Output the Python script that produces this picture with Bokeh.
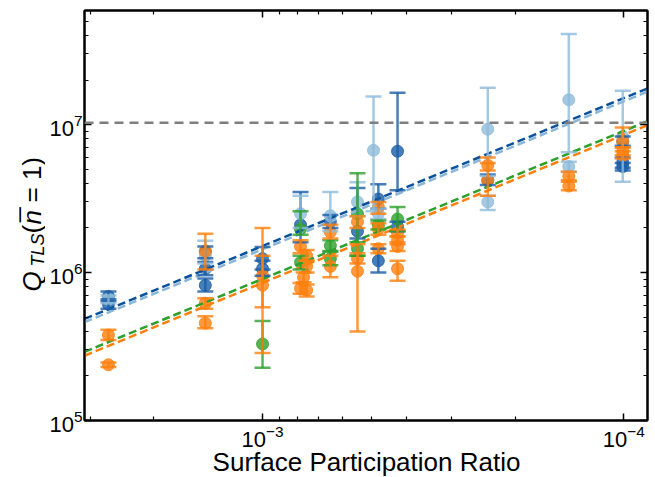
import numpy as np
from bokeh.plotting import figure
from bokeh.layouts import row, column
from bokeh.models import (Range1d, LogAxis, FixedTicker, LogTickFormatter, Whisker, TeeHead,
                          ColumnDataSource, Span, Label, CustomJSTickFormatter)
from bokeh.embed import file_html
from bokeh.resources import INLINE

# ---------------- data ----------------
# dark blue series
db_spr = [2.67e-3, 2.67e-3, 1.44e-3, 1.44e-3, 1.44e-3, 1.0e-3, 1.0e-3, 7.85e-4, 6.49e-4,
          5.46e-4, 4.78e-4, 4.78e-4, 4.23e-4, 4.23e-4, 2.38e-4, 1.007e-4, 1.007e-4, 1.007e-4]
db_q = [6.9e5, 6.1e5, 1.38e6, 1.06e6, 8.2e5, 1.24e6, 1.06e6, 2.1e6, 2.2e6,
        1.9e6, 3.14e6, 1.2e6, 6.6e6, 2.04e6, 4.2e6, 7.7e6, 5.55e6, 5.2e6]
db_lo = [6.4e5, 5.7e5, 1.25e6, 9.6e5, 7.45e5, 1.05e6, 9.5e5, 1.6e6, 2.0e6,
         1.7e6, 2.7e6, 1.0e6, 3.6e6, 1.9e6, 3.9e6, 7.2e6, 5.1e6, 4.9e6]
db_hi = [7.45e5, 6.6e5, 1.5e6, 1.18e6, 9.1e5, 1.49e6, 1.2e6, 3.5e6, 2.45e6,
         3.72e6, 3.95e6, 1.45e6, 1.64e7, 2.2e6, 4.6e6, 8.3e6, 6.0e6, 5.5e6]

# light blue series
lb_spr = [2.67e-3, 1.44e-3, 7.85e-4, 6.49e-4, 5.46e-4, 4.93e-4, 4.78e-4, 2.38e-4,
          2.38e-4, 1.42e-4, 1.42e-4, 1.007e-4]
lb_q = [6.6e5, 1.3e6, 2.5e6, 2.42e6, 3.0e6, 6.7e6, 2.5e6, 9.3e6, 3.0e6, 1.47e7, 5.2e6, 8.3e6]
lb_lo = [6.2e5, 1.15e6, 2.0e6, 1.9e6, 2.4e6, 2.6e6, 2.3e6, 4.5e6, 2.65e6, 6.5e6, 4.8e6, 4.1e6]
lb_hi = [7.0e5, 1.64e6, 3.3e6, 3.5e6, 4.08e6, 1.55e7, 2.7e6, 1.77e7, 3.3e6, 4.1e7, 5.6e6, 1.69e7]

# green series
g_spr = [1.0e-3, 7.85e-4, 7.85e-4, 6.49e-4, 6.49e-4, 5.46e-4, 5.46e-4, 4.78e-4, 4.23e-4]
g_q = [3.29e5, 1.97e6, 1.17e6, 1.52e6, 1.24e6, 2.49e6, 1.45e6, 2.1e6, 2.3e6]
g_lo = [2.27e5, 1.8e6, 1.05e6, 1.4e6, 1.12e6, 1.3e6, 1.3e6, 1.95e6, 1.9e6]
g_hi = [4.7e5, 2.6e6, 1.3e6, 1.65e6, 1.38e6, 4.69e6, 1.6e6, 2.25e6, 2.77e6]

# orange series
o_spr = [2.67e-3, 2.67e-3, 1.44e-3, 1.44e-3, 1.44e-3, 1.0e-3, 1.0e-3, 7.85e-4, 7.55e-4,
         7.55e-4, 7.7e-4, 7.85e-4, 7.55e-4, 6.49e-4, 6.49e-4, 5.46e-4, 5.46e-4, 5.46e-4,
         4.78e-4, 4.78e-4, 4.78e-4, 4.23e-4, 4.23e-4, 4.23e-4, 4.23e-4, 2.38e-4, 2.38e-4,
         1.42e-4, 1.42e-4, 1.007e-4, 1.007e-4, 1.007e-4]
o_q = [3.78e5, 2.38e5, 1.4e6, 6.2e5, 4.55e5, 9.55e5, 8.2e5, 1.5e6, 1.3e6,
       1.1e6, 9.3e5, 7.8e5, 7.6e5, 1.88e6, 1.1e6, 2.2e6, 1.24e6, 1.02e6,
       2.77e6, 1.97e6, 1.45e6, 1.85e6, 1.65e6, 1.5e6, 1.06e6, 5.3e6, 4.2e6,
       4.48e6, 3.84e6, 7.7e6, 6.6e6, 6.2e6]
o_lo = [3.5e5, 2.3e5, 1.05e6, 5.7e5, 4.2e5, 5.82e5, 2.86e5, 1.35e6, 1.2e6,
        1.0e6, 8.6e5, 7.2e5, 6.9e5, 1.7e6, 9.3e5, 2.0e6, 1.15e6, 4.0e5,
        2.5e6, 1.8e6, 1.35e6, 1.75e6, 1.55e6, 1.4e6, 8.8e5, 4.9e6, 3.3e6,
        4.2e6, 3.6e6, 7.0e6, 6.2e6, 5.9e6]
o_hi = [4.1e5, 2.47e5, 1.83e6, 6.7e5, 5.07e5, 2.0e6, 1.3e6, 1.65e6, 1.42e6,
        1.2e6, 1.0e6, 8.5e5, 8.3e5, 2.1e6, 1.3e6, 2.4e6, 1.35e6, 1.55e6,
        3.0e6, 2.15e6, 1.55e6, 1.95e6, 1.75e6, 1.6e6, 1.2e6, 6.0e6, 5.5e6,
        4.8e6, 4.1e6, 9.55e6, 7.0e6, 6.6e6]

# fitted Q*p constants (Q = C / p) for each series
fit_c = {"db": 1510.0, "lb": 1436.0, "g": 905.0, "o": 852.0}
q_limit = 1.03e7

# tick values
x_major = [1e-4, 1e-3]
x_minor = [2e-4, 3e-4, 4e-4, 5e-4, 6e-4, 7e-4, 8e-4, 9e-4, 2e-3, 3e-3]
y_major = [1e5, 1e6, 1e7]
y_minor = [2e5, 3e5, 4e5, 5e5, 6e5, 7e5, 8e5, 9e5, 2e6, 3e6, 4e6, 5e6, 6e6, 7e6, 8e6,
           9e6, 2e7, 3e7, 4e7, 5e7]

x_title = "Surface Participation Ratio"

X_RANGE = (3.11e-3, 8.6e-5)
Y_RANGE = (1e5, 5.9e7)

colors = {"db": "#1a5ea6", "lb": "#8fbcd9", "g": "#2ca02c", "o": "#ff7f0e"}
line_colors = {"db": "#0a519c", "lb": "#8ab6d6", "g": "#2ca02c", "o": "#ff7f0e"}

FONT = "Liberation Sans"

LEFT_W = 45
TOP_H = 449

p = figure(width=655 - LEFT_W, height=TOP_H, x_axis_type="log", y_axis_type="log",
           x_range=Range1d(*X_RANGE), y_range=Range1d(*Y_RANGE),
           output_backend="svg", toolbar_location=None,
           min_border_left=39, min_border_right=8, min_border_top=10,
           min_border_bottom=26)
p.grid.visible = False
p.outline_line_color = "black"
p.outline_line_width = 2
p.background_fill_color = "white"
p.border_fill_color = "white"

series = [("db", db_spr, db_q, db_lo, db_hi),
          ("lb", lb_spr, lb_q, lb_lo, lb_hi),
          ("g", g_spr, g_q, g_lo, g_hi),
          ("o", o_spr, o_q, o_lo, o_hi)]

for key, xs, ys, lo, hi in series:
    src = ColumnDataSource(dict(x=xs, y=ys, lo=lo, hi=hi))
    c = colors[key]
    w = Whisker(source=src, base="x", upper="hi", lower="lo", dimension="height",
                line_color=c, line_alpha=0.8, line_width=2.5, level="glyph",
                upper_head=TeeHead(size=16, line_color=c, line_alpha=0.8, line_width=2.5),
                lower_head=TeeHead(size=16, line_color=c, line_alpha=0.8, line_width=2.5))
    p.add_layout(w)
    p.scatter("x", "y", source=src, marker="circle", size=12, fill_color=c,
              line_color=c, fill_alpha=0.8, line_alpha=0.8)

p.add_layout(Span(location=q_limit, dimension="width", line_color="#7f7f7f",
                  line_width=2.5, line_dash="9 6"))

xfit = np.logspace(np.log10(X_RANGE[0]), np.log10(X_RANGE[1]), 60)
for key in ["lb", "db", "g", "o"]:
    p.line(xfit, fit_c[key] / xfit, line_color=line_colors[key], line_width=2.5,
           line_dash="8 4")


def style_axis(ax):
    ax.axis_line_width = 2
    ax.axis_line_color = "black"
    ax.major_tick_in = 7
    ax.major_tick_out = 0
    ax.minor_tick_in = 4
    ax.minor_tick_out = 0
    ax.major_tick_line_width = 1.5
    ax.minor_tick_line_width = 1.2


xt = FixedTicker(ticks=x_major, minor_ticks=x_minor)
yt = FixedTicker(ticks=y_major, minor_ticks=y_minor)

p.xaxis[0].ticker = xt
p.yaxis[0].ticker = yt
p.xaxis[0].formatter = LogTickFormatter()
p.yaxis[0].formatter = LogTickFormatter()
for ax in [p.xaxis[0], p.yaxis[0]]:
    style_axis(ax)
    ax.major_label_text_font = FONT
    ax.major_label_text_font_size = "22px"
    ax.major_label_text_color = "black"

p.yaxis[0].major_label_standoff = 2
p.xaxis[0].major_label_standoff = 4

blank = CustomJSTickFormatter(code="return ''")
for loc, tk in [("above", xt), ("right", yt)]:
    ax = LogAxis(ticker=tk, formatter=blank)
    ax.major_label_standoff = 0
    style_axis(ax)
    p.add_layout(ax, loc)


def text_panel(w, h):
    f = figure(width=w, height=h, x_range=Range1d(0, 1), y_range=Range1d(0, 1),
               output_backend="svg", toolbar_location=None,
               x_axis_location=None, y_axis_location=None,
               min_border=0, outline_line_color=None)
    f.grid.visible = False
    f.background_fill_color = "white"
    f.border_fill_color = "white"
    return f


# y-axis title: Q_TLS(n̄ = 1)
ytitle = text_panel(LEFT_W, TOP_H)
ang = np.pi / 2
pieces = [
    ("Q", 31, 291, "26px", "italic"),
    ("TLS", 37, 266, "18px", "italic"),
    ("(", 31, 233, "26px", "normal"),
    ("n\u0305", 31, 224, "26px", "italic"),
    ("= 1)", 31, 202, "26px", "normal"),
]
for txt, cx, cy, fs, st in pieces:
    ytitle.add_layout(Label(x=cx, y=cy, x_units="canvas", y_units="canvas", text=txt,
                            angle=ang, text_font=FONT, text_font_size=fs,
                            text_font_style=st, text_color="black",
                            text_baseline="alphabetic", text_align="left"))

# x-axis title
xtitle = text_panel(655, 477 - TOP_H)
xtitle.add_layout(Label(x=366, y=12, x_units="canvas", y_units="canvas", text=x_title,
                        text_font=FONT, text_font_size="26px", text_color="black",
                        text_align="center", text_baseline="alphabetic"))

layout = column(row(ytitle, p, spacing=0), xtitle, spacing=0)

open("out.html", "w").write(file_html(layout, INLINE))
